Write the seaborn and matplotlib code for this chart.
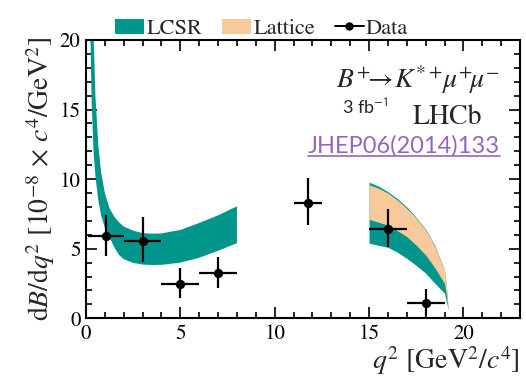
import numpy as np
import pandas as pd
import seaborn as sns
import matplotlib
matplotlib.use("Agg")
import matplotlib.pyplot as plt
from matplotlib.patches import Patch
from matplotlib.lines import Line2D
from matplotlib.ticker import MultipleLocator

# --- measured differential branching fraction (units of 1e-8 c^4/GeV^2) ---
q2_center = [1.05, 3.0, 5.0, 7.0, 11.75, 16.0, 18.0]
q2_lo = [0.1, 2.0, 4.0, 6.0, 11.0, 15.0, 17.0]
q2_hi = [2.0, 4.0, 6.0, 8.0, 12.5, 17.0, 19.0]
dbdq2 = [5.92, 5.56, 2.45, 3.24, 8.27, 6.40, 1.12]
err_up = [1.50, 1.70, 1.15, 1.20, 1.80, 1.45, 0.97]
err_dn = [1.45, 1.50, 1.00, 1.08, 1.60, 1.25, 0.88]

# --- LCSR prediction, low-q2 region ---
lcsr_low_q2 = [0.2, 0.3, 0.4, 0.5, 0.65, 0.8, 1.0, 1.25, 1.5, 1.75, 2.0,
               2.5, 3.0, 3.5, 4.0, 5.0, 6.0, 7.0, 8.0]
lcsr_low_min = [23.0, 15.5, 12.0, 10.2, 8.5, 7.4, 6.5, 5.8, 5.1, 4.55, 4.25,
                3.98, 3.86, 3.83, 3.84, 4.0, 4.35, 4.85, 5.4]
lcsr_low_max = [40.0, 27.0, 20.5, 16.0, 12.5, 10.5, 9.0, 7.9, 7.3, 6.9, 6.6,
                6.3, 6.12, 6.08, 6.1, 6.35, 6.85, 7.4, 8.05]

# --- LCSR and lattice predictions, high-q2 region ---
high_q2 = [15.0, 15.5, 16.0, 16.5, 17.0, 17.5, 18.0, 18.5, 19.0, 19.1, 19.2]
lcsr_high_min = [5.4, 5.25, 5.1, 4.75, 4.3, 3.8, 3.24, 2.5, 1.8, 1.2, 0.6]
lcsr_high_max = [9.78, 9.5, 9.1, 8.6, 8.0, 7.25, 6.4, 5.2, 3.45, 2.3, 0.6]
latt_min = [7.12, 6.9, 6.7, 6.3, 5.87, 5.25, 4.55, 3.6, 2.5, 1.6, 0.6]
latt_max = [9.6, 9.35, 9.0, 8.5, 7.9, 7.2, 6.35, 5.15, 3.45, 2.4, 0.6]

TEAL = "#00968c"
PEACH = "#f8c99a"
LINK = "#9467bd"
SERIF = ["STIXGeneral", "Liberation Serif", "DejaVu Serif"]

sns.set_theme(style="ticks")
plt.rcParams["font.family"] = SERIF
plt.rcParams["mathtext.fontset"] = "stix"

fig = plt.figure(figsize=(5.26, 3.78), dpi=100)
ax = fig.add_axes([86 / 526, 1 - 318.3 / 378, 434 / 526, 278.3 / 378])

ax.fill_between(lcsr_low_q2, lcsr_low_min, lcsr_low_max, color=TEAL, lw=0)
ax.fill_between(high_q2, lcsr_high_min, lcsr_high_max, color=TEAL, lw=0)
ax.fill_between(high_q2, latt_min, latt_max, color=PEACH, lw=0)

df = pd.DataFrame({"q2": q2_center, "val": dbdq2})
xerr = [np.subtract(q2_center, q2_lo), np.subtract(q2_hi, q2_center)]
ax.errorbar(q2_center, dbdq2, xerr=xerr, yerr=[err_dn, err_up],
            fmt="none", ecolor="black", elinewidth=1.6, capsize=0, zorder=3)
sns.scatterplot(data=df, x="q2", y="val", ax=ax, color="black", s=45,
                edgecolor="black", linewidth=0, zorder=4, legend=False)

ax.set_xlim(0, 23)
ax.set_ylim(0, 20)
ax.xaxis.set_major_locator(MultipleLocator(5))
ax.xaxis.set_minor_locator(MultipleLocator(1))
ax.yaxis.set_major_locator(MultipleLocator(5))
ax.yaxis.set_minor_locator(MultipleLocator(1))
ax.tick_params(which="both", direction="in", top=True, right=True,
               colors="black", labelsize=15, width=1.2)
ax.tick_params(which="major", length=8, pad=4)
ax.tick_params(which="minor", length=4)
for lbl in ax.get_xticklabels() + ax.get_yticklabels():
    lbl.set_fontfamily(SERIF)
for sp in ax.spines.values():
    sp.set_linewidth(1.5)
    sp.set_color("black")

ax.set_xlabel(r"$q^2$ [GeV$^2$/$c^4$]", fontsize=20, loc="right", labelpad=0)
ax.set_ylabel(r"d$B$/d$q^2$ [10$^{\mathregular{-8}}$ $\times$ $c^4$/GeV$^2$]",
              fontsize=20, labelpad=2)

ax.text(0.954, 0.828, r"$B^{+}\!\!\rightarrow\! K^{*+}\!\mu^{+}\!\mu^{-}$",
        transform=ax.transAxes, ha="right", va="baseline", fontsize=20)
ax.text(0.591, 0.735, r"3 fb$^{\mathsf{-1}}$", transform=ax.transAxes,
        ha="left", va="baseline", fontsize=13, family=["Lato", "DejaVu Sans"])
ax.text(0.912, 0.698, "LHCb", transform=ax.transAxes, ha="right", va="baseline",
        fontsize=20)
ref = ax.text(0.954, 0.596, "JHEP06(2014)133", transform=ax.transAxes,
              ha="right", va="baseline", fontsize=17, color=LINK,
              family=["Lato", "DejaVu Sans"])

# underline the reference
fig.canvas.draw()
bb = ref.get_window_extent()
inv = ax.transAxes.inverted()
(x0, _), (x1, _) = inv.transform([(bb.x0, 0), (bb.x1, 0)])
ax.plot([x0, x1], [0.583, 0.583], transform=ax.transAxes, color=LINK,
        lw=1.2, clip_on=False)

handles = [Patch(facecolor=TEAL, edgecolor="none", label="LCSR"),
           Patch(facecolor=PEACH, edgecolor="none", label="Lattice"),
           Line2D([], [], color="black", marker="o", markersize=5, lw=1.4,
                  label="Data")]
ax.legend(handles=handles, loc="center", bbox_to_anchor=(0.405, 1.04), ncol=3,
          frameon=False, fontsize=16, handlelength=1.3, handletextpad=0.1,
          columnspacing=0.9, borderaxespad=0)

fig.savefig("out.png", dpi=100)
